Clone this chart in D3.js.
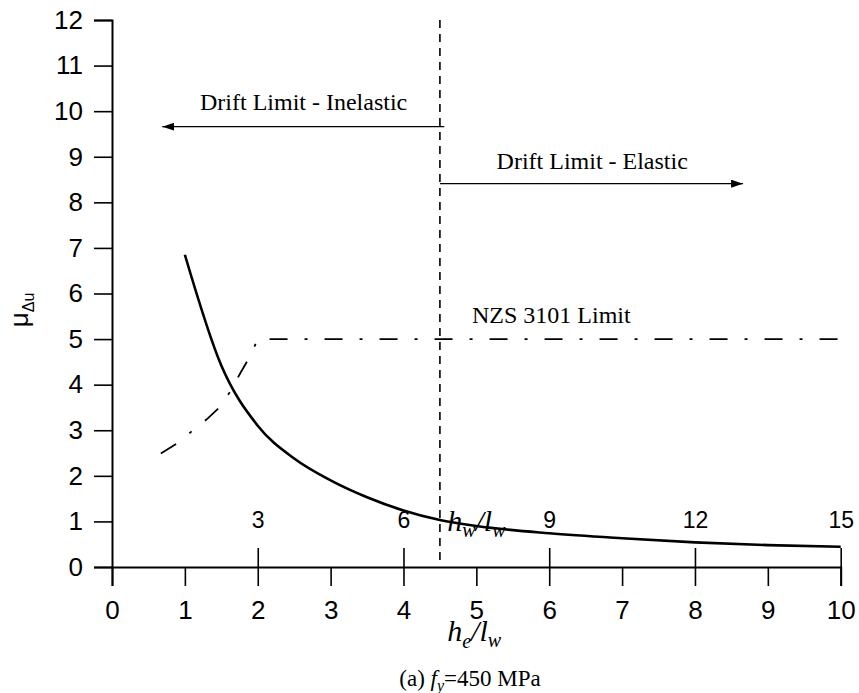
<!DOCTYPE html>
<html>
<head>
<meta charset="utf-8">
<script src="https://cdn.jsdelivr.net/npm/d3@7"></script>
<style>
    body { margin: 0; background: #fff; }
    .axis text { font-family: "Liberation Sans", Arial, sans-serif; font-size: 26px; fill: #000; }
    .axis path, .axis line { stroke: #000; }
    .serif { font-family: "Liberation Serif", "Times New Roman", serif; fill: #000; }
</style>
</head>
<body>
<div id="chart"></div>
<script>
// wall aspect ratio he/lw and the ductility
var ratioHeLw = [1, 1.5, 2, 2.5, 3, 3.5, 4, 4.5, 5, 6, 7, 8, 9, 10];
var ductility = [6.85, 4.42, 3.10, 2.38, 1.90, 1.53, 1.24, 1.03, 0.90, 0.74, 0.63, 0.54, 0.48, 0.445];

// NZS 3101 limit (dash-dot)
var nzsX = [0.67, 0.89, 1.09, 1.3, 1.46, 1.62, 1.76, 1.89, 2, 10];
var nzsY = [2.49, 2.71, 2.97, 3.24, 3.48, 3.84, 4.25, 4.61, 5, 5];

// axis ticks
var xTicks = [0, 1, 2, 3, 4, 5, 6, 7, 8, 9, 10];
var yTicks = [0, 1, 2, 3, 4, 5, 6, 7, 8, 9, 10, 11, 12];
var hwTicks = [3, 6, 9, 12, 15];

var driftBoundary = 4.5;

var margin = { top: 20, left: 112 },
    width = 728.7,
    height = 547;

var svg = d3.select("#chart")
    .append("svg")
    .attr("width", 859)
    .attr("height", 693)
    .append("g")
    .attr("transform", "translate(" + margin.left + "," + margin.top + ")");

var x = d3.scaleLinear().domain([0, 10]).range([0, width]);
var y = d3.scaleLinear().domain([0, 12]).range([height, 0]);
// hw/lw shares the same positions, 1.5x the he/lw value
var x2 = d3.scaleLinear().domain([0, 15]).range([0, width]);

// Y axis
var yAxis = svg.append("g")
    .attr("class", "axis")
    .call(d3.axisLeft(y).tickValues(yTicks).tickSize(18).tickPadding(11));
yAxis.select(".domain").attr("stroke-width", 2);
yAxis.selectAll(".tick line").attr("stroke-width", 1.6);

// X axis
var xAxis = svg.append("g")
    .attr("class", "axis")
    .attr("transform", "translate(0," + height + ")")
    .call(d3.axisBottom(x).tickValues(xTicks).tickSize(19).tickPadding(15));
xAxis.select(".domain").attr("stroke-width", 2);
xAxis.selectAll(".tick line").attr("stroke-width", 1.6);

// second set of ticks for hw/lw above the x axis
var hwAxis = svg.append("g")
    .attr("class", "axis")
    .attr("transform", "translate(0," + height + ")")
    .call(d3.axisTop(x2).tickValues(hwTicks).tickSize(19).tickPadding(20));
hwAxis.select(".domain").remove();
hwAxis.selectAll(".tick line").attr("stroke-width", 1.6);
hwAxis.selectAll("text").style("font-size", "23px");

// vertical dashed boundary
svg.append("line")
    .attr("x1", x(driftBoundary))
    .attr("x2", x(driftBoundary))
    .attr("y1", y(12))
    .attr("y2", y(0.1))
    .attr("stroke", "#000")
    .attr("stroke-width", 1.6)
    .attr("stroke-dasharray", "8,6");

// NZS limit line
var nzs = nzsX.map(function(d, i) { return { x: d, y: nzsY[i] }; });
svg.append("path")
    .datum(nzs)
    .attr("fill", "none")
    .attr("stroke", "#000")
    .attr("stroke-width", 1.8)
    .attr("stroke-dasharray", "18,17,3,17")
    .attr("d", d3.line()
        .x(function(d) { return x(d.x); })
        .y(function(d) { return y(d.y); }));

// ductility curve
var curve = ratioHeLw.map(function(d, i) { return { x: d, y: ductility[i] }; });
svg.append("path")
    .datum(curve)
    .attr("fill", "none")
    .attr("stroke", "#000")
    .attr("stroke-width", 2.6)
    .attr("d", d3.line()
        .curve(d3.curveMonotoneX)
        .x(function(d) { return x(d.x); })
        .y(function(d) { return y(d.y); }));

// arrow heads
var defs = svg.append("defs");
defs.append("marker")
    .attr("id", "arrow")
    .attr("viewBox", "0 0 12 8")
    .attr("refX", 12)
    .attr("refY", 4)
    .attr("markerWidth", 12)
    .attr("markerHeight", 8)
    .attr("markerUnits", "userSpaceOnUse")
    .attr("orient", "auto")
    .append("path")
    .attr("d", "M0,0 L12,4 L0,8 Z")
    .attr("fill", "#000");

svg.append("line")
    .attr("x1", x(4.56)).attr("x2", x(0.69))
    .attr("y1", y(9.66)).attr("y2", y(9.66))
    .attr("stroke", "#000")
    .attr("stroke-width", 1.4)
    .attr("marker-end", "url(#arrow)");

svg.append("line")
    .attr("x1", x(driftBoundary)).attr("x2", x(8.66))
    .attr("y1", y(8.41)).attr("y2", y(8.41))
    .attr("stroke", "#000")
    .attr("stroke-width", 1.4)
    .attr("marker-end", "url(#arrow)");

// annotations
svg.append("text")
    .attr("class", "serif")
    .attr("x", x(2.63))
    .attr("y", y(10.02))
    .attr("text-anchor", "middle")
    .style("font-size", "24px")
    .text("Drift Limit - Inelastic");

svg.append("text")
    .attr("class", "serif")
    .attr("x", x(6.59))
    .attr("y", y(8.74))
    .attr("text-anchor", "middle")
    .style("font-size", "24px")
    .text("Drift Limit - Elastic");

svg.append("text")
    .attr("class", "serif")
    .attr("x", x(4.94))
    .attr("y", y(5.35))
    .style("font-size", "24px")
    .text("NZS 3101 Limit");

// hw/lw label next to the upper ticks
var hwLabel = svg.append("text")
    .attr("class", "serif")
    .attr("x", x(4.6))
    .attr("y", y(0.8))
    .style("font-size", "30px")
    .style("font-style", "italic");
hwLabel.append("tspan").text("h");
hwLabel.append("tspan").attr("dy", 6).style("font-size", "20px").text("w");
hwLabel.append("tspan").attr("dy", -6).text("/l");
hwLabel.append("tspan").attr("dy", 6).style("font-size", "20px").text("w");

// x title
var xTitle = svg.append("text")
    .attr("class", "serif")
    .attr("x", x(4.6))
    .attr("y", 621)
    .style("font-size", "30px")
    .style("font-style", "italic");
xTitle.append("tspan").text("h");
xTitle.append("tspan").attr("dy", 7).style("font-size", "20px").text("e");
xTitle.append("tspan").attr("dy", -7).text("/l");
xTitle.append("tspan").attr("dy", 6).style("font-size", "20px").text("w");

// y title
var yTitle = svg.append("text")
    .attr("transform", "translate(" + (28 - margin.left) + "," + (310 - margin.top) + ") rotate(-90)")
    .attr("text-anchor", "middle")
    .style("font-family", "'Liberation Sans', Arial, sans-serif")
    .style("font-size", "26px");
yTitle.append("tspan").text("μ");
yTitle.append("tspan").attr("dy", 6).style("font-size", "16px").text("Δu");

// caption
var caption = svg.append("text")
    .attr("class", "serif")
    .attr("x", 470 - margin.left)
    .attr("y", 686 - margin.top)
    .attr("text-anchor", "middle")
    .style("font-size", "23px");
caption.append("tspan").text("(a) ");
caption.append("tspan").style("font-style", "italic").text("f");
caption.append("tspan").attr("dy", 5).style("font-style", "italic").style("font-size", "16px").text("y");
caption.append("tspan").attr("dy", -5).text("=450 MPa");
</script>
</body>
</html>
